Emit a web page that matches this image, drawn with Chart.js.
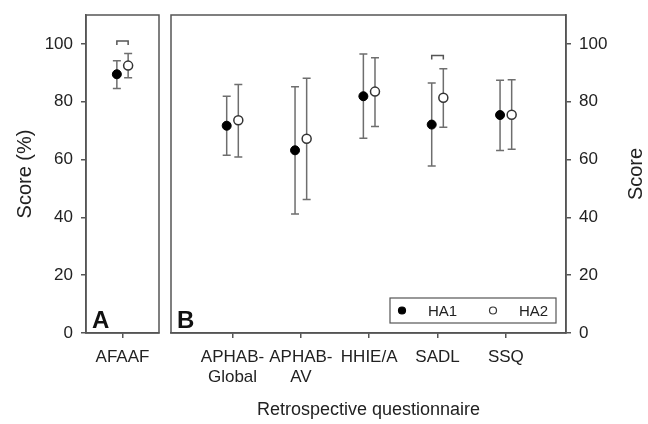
<!DOCTYPE html>
<html>
<head>
<meta charset="utf-8">
<script src="https://cdn.jsdelivr.net/npm/chart.js@4"></script>
<style>
  body { margin: 0; background: #fff; }
  #wrap { position: relative; width: 648px; height: 424px; }
  #chartA { position: absolute; left: 0; top: 0; }
  #chartB { position: absolute; left: 165px; top: 0; }
</style>
</head>
<body>
<div id="wrap">
  <canvas id="chartA" width="165" height="424"></canvas>
  <canvas id="chartB" width="483" height="424"></canvas>
</div>
<script>
// 面板 A 数据
var categoriesA = ['AFAAF'];
var ha1A = [89.5], ha1LowA = [84.6], ha1HighA = [94.2];
var ha2A = [92.5], ha2LowA = [88.3], ha2HighA = [96.7];
var bracketA = [{ index: 0, y: 101 }];

// 面板 B 数据
var categoriesB = [['APHAB-', 'Global'], ['APHAB-', 'AV'], 'HHIE/A', 'SADL', 'SSQ'];
var ha1B = [71.7, 63.2, 81.9, 72.1, 75.4];
var ha1LowB = [61.5, 41.2, 67.4, 57.8, 63.1];
var ha1HighB = [81.9, 85.2, 96.5, 86.5, 87.4];
var ha2B = [73.6, 67.2, 83.5, 81.4, 75.5];
var ha2LowB = [60.9, 46.2, 71.4, 71.2, 63.6];
var ha2HighB = [86.0, 88.1, 95.2, 91.4, 87.6];
var bracketB = [{ index: 3, y: 96 }];

var yTicks = [0, 20, 40, 60, 80, 100];
var seriesNames = ['HA1', 'HA2'];

var FONT = 'Liberation Sans, Arial, sans-serif';
var TXT = '#222';
var AXIS = '#555';
var OFF = 0.085; // 两组点的水平偏移

function points(vals, shift) {
  return vals.map(function (v, i) { return { x: i + shift, y: v }; });
}

function makeDatasets(h1, h1lo, h1hi, h2, h2lo, h2hi) {
  return [{
    label: seriesNames[0],
    data: points(h1, -OFF), low: h1lo, high: h1hi,
    pointRadius: 4.5, pointBackgroundColor: '#000', pointBorderColor: '#000',
    pointBorderWidth: 1, showLine: false
  }, {
    label: seriesNames[1],
    data: points(h2, OFF), low: h2lo, high: h2hi,
    pointRadius: 4.5, pointBackgroundColor: '#fff', pointBorderColor: '#333',
    pointBorderWidth: 1.5, showLine: false
  }];
}

// 误差线、括号、边框、字母
var decor = {
  id: 'decor',
  beforeDatasetsDraw: function (chart) {
    var ctx = chart.ctx, xs = chart.scales.x, ys = chart.scales.y;
    ctx.save();
    ctx.strokeStyle = '#6e6e6e';
    ctx.lineWidth = 1.5;
    chart.data.datasets.forEach(function (ds) {
      ds.data.forEach(function (p, i) {
        var x = xs.getPixelForValue(p.x);
        var yl = ys.getPixelForValue(ds.low[i]);
        var yh = ys.getPixelForValue(ds.high[i]);
        ctx.beginPath();
        ctx.moveTo(x, yl); ctx.lineTo(x, yh);
        ctx.moveTo(x - 4, yl); ctx.lineTo(x + 4, yl);
        ctx.moveTo(x - 4, yh); ctx.lineTo(x + 4, yh);
        ctx.stroke();
      });
    });
    // 显著性括号
    ctx.strokeStyle = AXIS;
    (chart.options.plugins.decor.brackets || []).forEach(function (b) {
      var x1 = xs.getPixelForValue(b.index - OFF);
      var x2 = xs.getPixelForValue(b.index + OFF);
      var y = ys.getPixelForValue(b.y);
      ctx.beginPath();
      ctx.moveTo(x1, y + 4); ctx.lineTo(x1, y); ctx.lineTo(x2, y); ctx.lineTo(x2, y + 4);
      ctx.stroke();
    });
    ctx.restore();
  },
  afterDraw: function (chart) {
    var ctx = chart.ctx, a = chart.chartArea, o = chart.options.plugins.decor;
    ctx.save();
    ctx.strokeStyle = AXIS;
    ctx.lineWidth = 1.5;
    ctx.strokeRect(a.left, a.top, a.right - a.left, a.bottom - a.top);
    ctx.fillStyle = '#111';
    ctx.font = 'bold 24px ' + FONT;
    ctx.textBaseline = 'alphabetic';
    ctx.fillText(o.letter, a.left + 6, a.bottom - 5);
    if (o.rightTitle) {
      ctx.fillStyle = TXT;
      ctx.font = '20px ' + FONT;
      ctx.textAlign = 'center';
      ctx.textBaseline = 'middle';
      ctx.translate(chart.width - 12, (a.top + a.bottom) / 2);
      ctx.rotate(-Math.PI / 2);
      ctx.fillText(o.rightTitle, 0, 0);
      ctx.setTransform(1, 0, 0, 1, 0, 0);
    }
    if (o.legend) {
      var w = 166, h = 25;
      var lx = a.right - 10 - w, ly = a.bottom - 10 - h;
      ctx.strokeStyle = AXIS;
      ctx.lineWidth = 1.2;
      ctx.strokeRect(lx, ly, w, h);
      ctx.font = '15px ' + FONT;
      ctx.textAlign = 'left';
      ctx.textBaseline = 'middle';
      chart.data.datasets.forEach(function (ds, i) {
        var mx = lx + 12 + i * 91, my = ly + h / 2;
        ctx.beginPath();
        ctx.arc(mx, my, 3.5, 0, Math.PI * 2);
        ctx.fillStyle = ds.pointBackgroundColor;
        ctx.fill();
        ctx.strokeStyle = ds.pointBorderColor;
        ctx.lineWidth = 1.2;
        ctx.stroke();
        ctx.fillStyle = TXT;
        ctx.fillText(ds.label, mx + 26, my + 1);
      });
    }
    ctx.restore();
  }
};

function tickFix(list) {
  return function (scale) {
    scale.ticks = list.map(function (v) { return { value: v }; });
  };
}

function makeChart(id, cats, datasets, xMin, xMax, yPos, yWidth, padding, decorOpts, xTitle) {
  var ctx = document.getElementById(id).getContext('2d');
  return new Chart(ctx, {
    type: 'scatter',
    data: { datasets: datasets },
    plugins: [decor],
    options: {
      responsive: false,
      animation: false,
      layout: { padding: padding },
      plugins: {
        legend: { display: false },
        tooltip: { enabled: false },
        decor: decorOpts
      },
      scales: {
        x: {
          type: 'linear', min: xMin, max: xMax,
          afterBuildTicks: tickFix(cats.map(function (c, i) { return i; })),
          afterFit: function (s) { s.height = 91; },
          grid: { drawOnChartArea: false, drawTicks: true, tickLength: 5, color: AXIS, lineWidth: 1.5 },
          border: { display: true, color: AXIS, width: 1.5 },
          ticks: {
            color: TXT, padding: 9, maxRotation: 0, autoSkip: false,
            font: { family: FONT, size: 17 },
            callback: function (v) { return cats[Math.round(v)]; }
          },
          title: {
            display: !!xTitle, text: xTitle || '', color: TXT,
            font: { family: FONT, size: 18 }, padding: { top: 4, bottom: 3 }
          }
        },
        y: {
          position: yPos, min: 0, max: 110,
          afterBuildTicks: tickFix(yTicks),
          afterFit: function (s) { s.width = yWidth; s.paddingTop = 0; s.paddingBottom = 0; },
          grid: { drawOnChartArea: false, drawTicks: true, tickLength: 5, color: AXIS, lineWidth: 1.5 },
          border: { display: true, color: AXIS, width: 1.5 },
          ticks: { color: TXT, padding: 8, font: { family: FONT, size: 17 } },
          title: {
            display: yPos === 'left', text: 'Score (%)', color: TXT,
            font: { family: FONT, size: 20 }, padding: { top: 13, bottom: 0 }
          }
        }
      }
    }
  });
}

makeChart('chartA', categoriesA,
  makeDatasets(ha1A, ha1LowA, ha1HighA, ha2A, ha2LowA, ha2HighA),
  -0.55, 0.55, 'left', 86, { left: 0, right: 3, top: 15, bottom: 0 },
  { letter: 'A', brackets: bracketA });

makeChart('chartB', categoriesB,
  makeDatasets(ha1B, ha1LowB, ha1HighB, ha2B, ha2LowB, ha2HighB),
  -0.9, 4.88, 'right', 82, { left: 2, right: 0, top: 15, bottom: 0 },
  { letter: 'B', brackets: bracketB, legend: true, rightTitle: 'Score' },
  'Retrospective questionnaire');
</script>
</body>
</html>
